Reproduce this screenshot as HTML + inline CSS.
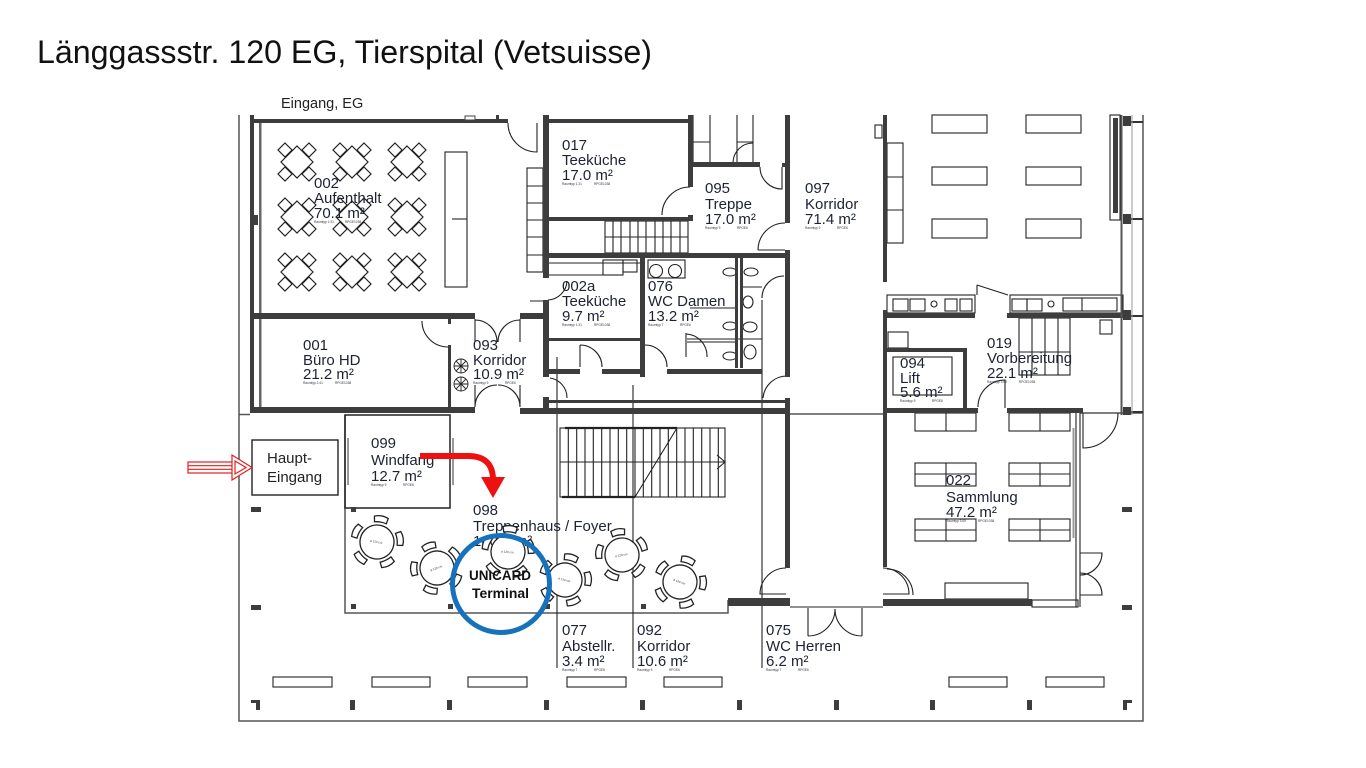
<!DOCTYPE html>
<html><head><meta charset="utf-8"><style>html,body{margin:0;padding:0;background:#fff}svg{display:block}</style></head>
<body>
<svg width="1366" height="768" viewBox="0 0 1366 768" xmlns="http://www.w3.org/2000/svg" xmlns:xlink="http://www.w3.org/1999/xlink" font-family="Liberation Sans, Arial, sans-serif">
<defs>
<g id="dg" fill="#fff" stroke="#222" stroke-width="1.2">
<polygon points="0,-16 16,0 0,16 -16,0"/>
<polygon points="-12,-19 -5,-12 -12,-5 -19,-12"/>
<polygon points="12,-19 19,-12 12,-5 5,-12"/>
<polygon points="-12,5 -5,12 -12,19 -19,12"/>
<polygon points="12,5 19,12 12,19 5,12"/>
</g>
<path id="ch" d="M-6,-19.5 L-7,-25 Q0,-28 7,-25 L6,-19.5 Q0,-21 -6,-19.5Z" fill="#fff" stroke="#222" stroke-width="1.3"/>
<g id="rt">
<use xlink:href="#ch"/>
<use xlink:href="#ch" transform="rotate(72)"/>
<use xlink:href="#ch" transform="rotate(144)"/>
<use xlink:href="#ch" transform="rotate(216)"/>
<use xlink:href="#ch" transform="rotate(288)"/>
<circle r="17" fill="#fff" stroke="#222" stroke-width="1.3"/>
<text x="-7" y="1" font-size="3" fill="#334">ø 120 cm</text>
</g>
<g id="fan" stroke="#222" stroke-width="0.9" fill="#fff">
<circle r="7"/>
<path d="M-7,0H7M0,-7V7M-5,-5L5,5M-5,5L5,-5"/>
</g>
</defs>
<rect width="1366" height="768" fill="#fff"/>

<text x="37" y="63" font-size="32" fill="#111" textLength="615" lengthAdjust="spacingAndGlyphs">Länggassstr. 120 EG, Tierspital (Vetsuisse)</text>
<text x="281" y="108" font-size="14.5" fill="#222">Eingang, EG</text>

<!-- outer thin lines -->
<g stroke="#555" stroke-width="1.5" fill="none">
<path d="M239,115V721H1143V115"/>
<path d="M239,414.5H250M790,414H883M1080,413H1143"/>
<path d="M345,415V613H728V600"/>
<rect x="345" y="415" width="105" height="93" stroke="#222"/>
</g>
<g stroke="#999" stroke-width="2">
<path d="M348,438V485M453,438V485M1073.5,428V538"/>
</g>

<!-- thin architecture lines -->
<g stroke="#222" stroke-width="1.1" fill="none">
<path d="M557,357V668M633,385V668M762,300V668"/>
<!-- 002 long table -->
<rect x="445" y="152" width="22" height="135"/>
<path d="M452,219H467"/>
<!-- shelf left of 017 -->
<rect x="527" y="168" width="16" height="104"/>
<path d="M527,186H543M527,203H543M527,220H543M527,237H543M527,255H543"/>
<!-- door 002 top -->
<path d="M508,123A29,29 0 0,0 537,152V123"/>
<!-- 001 door -->
<path d="M422,321A26,26 0 0,0 448,347"/>
<!-- 093 doors -->
<path d="M475,319V342M475,320A22,22 0 0,1 497,342M520,319V342M520,320A22,22 0 0,0 498,342"/>
<path d="M475,385V407M475,407A22,22 0 0,1 497,385M520,385V407M520,407A22,22 0 0,0 498,385"/>
<!-- upper cubicles above 095 -->
<path d="M693,115V162M710,115V162M693,142H710M737,115V162M753,115V162M737,142H753M733,162A20,20 0 0,1 753,143"/>
<!-- 095 doors -->
<path d="M662,215A28,28 0 0,1 690,187M760,167A22,22 0 0,0 782,189V167M758,250H785M758,250A27,27 0 0,1 785,223"/>
<!-- stairs 095 -->
<rect x="605" y="221" width="83" height="32"/>
<path d="M605,237H688M613,221V253M621,221V253M630,221V253M638,221V253M646,221V253M655,221V253M663,221V253M671,221V253M680,221V253"/>
<!-- 002a -->
<path d="M548,263H640M548,275H603"/>
<rect x="603" y="260" width="20" height="15"/>
<rect x="623" y="260" width="14" height="12"/>
<path d="M548,300A20,20 0 0,0 567,281M530,301H548M580,345V367M580,345A22,22 0 0,1 602,367M645,345A22,22 0 0,1 667,367M550,378A20,20 0 0,1 567,398M763,398A24,24 0 0,1 787,376M686,333V357M686,334A22,22 0 0,1 707,357"/>
<!-- 076 -->
<rect x="648" y="260" width="37" height="18"/>
<circle cx="656" cy="271" r="6.5"/><circle cx="675" cy="271" r="6.5"/>
<path d="M743,287H762M687,339H762M687,342H735M690,308H735"/>
<ellipse cx="730" cy="272" rx="7" ry="4"/><ellipse cx="751" cy="272" rx="7" ry="4"/>
<ellipse cx="748" cy="302" rx="5" ry="6"/><ellipse cx="730" cy="326" rx="7" ry="4"/>
<ellipse cx="750" cy="327" rx="7" ry="5"/><ellipse cx="730" cy="356" rx="7" ry="4"/>
<ellipse cx="750" cy="352" rx="6" ry="7"/>
<path d="M762,298A22,22 0 0,1 784,276"/>
<!-- 097 -->
<rect x="887" y="143" width="16" height="100"/>
<path d="M887,177H903M887,210H903"/>
<rect x="875" y="125" width="7" height="13"/>
<rect x="932" y="115" width="55" height="18"/><rect x="1026" y="115" width="55" height="18"/>
<rect x="932" y="167" width="55" height="18"/><rect x="1026" y="167" width="55" height="18"/>
<rect x="932" y="219" width="55" height="19"/><rect x="1026" y="219" width="55" height="19"/>
<rect x="1110" y="115" width="10" height="105"/>
<!-- counters -->
<rect x="887" y="295" width="88" height="18"/>
<rect x="1010" y="295" width="113" height="18"/>
<rect x="893" y="299" width="15" height="12"/><rect x="910" y="299" width="15" height="12"/>
<circle cx="934" cy="304" r="3"/>
<rect x="945" y="299" width="12" height="12"/><rect x="960" y="299" width="12" height="12"/>
<rect x="1012" y="299" width="15" height="12"/><rect x="1027" y="299" width="15" height="12"/>
<circle cx="1051" cy="304" r="3"/>
<rect x="1063" y="298" width="54" height="13"/><path d="M1082,298V311"/>
<path d="M977,285L1008,295M977,285V295"/>
<!-- lift -->
<rect x="893" y="357" width="59" height="38"/>
<rect x="888" y="332" width="20" height="16"/>
<path d="M978,407A27,27 0 0,1 1005,380V408"/>
<!-- 019 cabinet -->
<rect x="1019" y="318" width="51" height="57"/>
<path d="M1032,318V375M1045,318V375M1058,318V375M1019,352H1070"/>
<rect x="1100" y="320" width="12" height="14"/>
<!-- Sammlung -->
<rect x="915" y="413" width="61" height="18"/><path d="M946,413V431"/>
<rect x="1009" y="413" width="61" height="18"/><path d="M1040,413V431"/>
<rect x="915" y="463" width="61" height="23"/><path d="M946,463V486M915,474H976"/>
<rect x="1009" y="463" width="61" height="23"/><path d="M1040,463V486M1009,474H1070"/>
<rect x="915" y="519" width="61" height="22"/><path d="M946,519V541M915,530H976"/>
<rect x="1009" y="519" width="61" height="22"/><path d="M1040,519V541M1009,530H1070"/>
<rect x="945" y="583" width="83" height="16"/>
<path d="M1076,413V607M1080,413V607"/>
<rect x="1032" y="600" width="46" height="7"/>
<path d="M887,569A26,26 0 0,1 913,595"/>
<path d="M1080,553H1102A22,22 0 0,1 1080,575M1080,595H1102A22,22 0 0,0 1080,573"/>
<path d="M1083,413V448A35,35 0 0,0 1118,413"/>
<!-- corridor doors -->
<path d="M786,568A26,26 0 0,0 760,594H786M883,568A26,26 0 0,1 909,594H883"/>
<path d="M790,607H883M808,608V636M862,608V636M808,636A27,27 0 0,0 835,609M862,636A27,27 0 0,1 835,609"/>
<!-- foyer stairs -->
<rect x="560" y="428" width="165" height="69"/>
<path d="M560,462H725M568.3,428V497M576.7,428V497M585,428V497M593.3,428V497M601.7,428V497M610,428V497M618.3,428V497M626.7,428V497M635,428V497M643.3,428V497M651.7,428V497M660,428V497M668.3,428V497M676.7,428V497M685,428V497M693.3,428V497M701.7,428V497M710,428V497M718.3,428V497M635,497L677,428M717,455L725,462L717,469"/>
<!-- benches -->
<rect x="273" y="677" width="59" height="10"/><rect x="372" y="677" width="58" height="10"/>
<rect x="468" y="677" width="59" height="10"/><rect x="567" y="677" width="59" height="10"/>
<rect x="664" y="677" width="58" height="10"/><rect x="949" y="677" width="58" height="10"/>
<rect x="1046" y="677" width="58" height="10"/>
<!-- Haupt-Eingang -->
<rect x="252" y="440" width="86" height="55" stroke-width="1.4"/>
</g>
<path d="M565,428H677M562,497H635" stroke="#222" stroke-width="2.2"/>

<!-- walls -->
<g fill="#3d3d3d">
<rect x="250" y="115" width="4" height="298"/>
<rect x="259" y="123" width="2.5" height="190" fill="#666"/>
<rect x="259" y="319" width="2.5" height="89" fill="#666"/>
<rect x="250" y="215" width="8" height="10"/>
<rect x="250" y="119" width="258" height="4"/>
<rect x="465" y="116" width="10" height="4" fill="#fff" stroke="#444" stroke-width="1"/>
<rect x="496" y="115" width="3" height="7"/>
<rect x="250" y="313" width="225" height="6"/>
<rect x="250" y="407" width="225" height="6"/>
<rect x="520" y="313" width="28" height="6"/>
<rect x="448" y="345" width="3" height="62"/>
<rect x="448" y="319" width="3" height="5"/>
<rect x="543" y="115" width="6" height="163"/>
<rect x="543" y="300" width="6" height="77"/>
<rect x="543" y="397" width="6" height="12"/>
<rect x="520" y="408" width="270" height="6"/>
<rect x="548" y="400" width="242" height="3"/>
<rect x="543" y="119" width="150" height="4"/>
<rect x="688" y="115" width="5" height="72"/>
<rect x="688" y="215" width="5" height="6"/>
<rect x="548" y="217" width="140" height="4"/>
<rect x="693" y="162" width="67" height="5"/>
<rect x="785" y="115" width="5" height="48"/>
<rect x="782" y="163" width="8" height="4"/>
<rect x="785" y="165" width="5" height="58"/>
<rect x="785" y="250" width="5" height="127"/>
<rect x="785" y="398" width="5" height="170"/>
<rect x="543" y="253" width="247" height="5"/>
<rect x="640" y="258" width="5" height="119"/>
<rect x="548" y="338" width="92" height="3"/>
<rect x="735" y="258" width="3" height="110"/>
<rect x="740" y="258" width="3" height="110"/>
<rect x="543" y="369" width="37" height="5"/>
<rect x="602" y="369" width="43" height="5"/>
<rect x="667" y="369" width="95" height="5"/>
<rect x="728" y="598" width="62" height="8"/>
<rect x="883" y="115" width="4" height="167"/>
<rect x="883" y="313" width="92" height="5"/>
<rect x="1007" y="313" width="118" height="5"/>
<rect x="883" y="310" width="4" height="257"/>
<rect x="883" y="348" width="84" height="4"/>
<rect x="963" y="348" width="4" height="62"/>
<rect x="883" y="408" width="95" height="5"/>
<rect x="1007" y="408" width="76" height="5"/>
<rect x="883" y="599" width="149" height="7"/>
<rect x="1113" y="118" width="5" height="95"/>
<rect x="1123" y="116" width="8" height="10"/>
<rect x="1123" y="214" width="8" height="10"/>
<rect x="1123" y="310" width="8" height="10"/>
<rect x="1123" y="407" width="8" height="8"/>
<!-- column markers -->
<rect x="251" y="507" width="10" height="5"/><rect x="251" y="605" width="10" height="5"/>
<rect x="1122" y="507" width="10" height="5"/><rect x="1122" y="605" width="10" height="5"/>
<rect x="251" y="700" width="9" height="3"/><rect x="256" y="700" width="4" height="10"/>
<rect x="1123" y="700" width="9" height="3"/><rect x="1123" y="700" width="4" height="10"/>
<rect x="350" y="700" width="5" height="10"/><rect x="447" y="700" width="5" height="10"/>
<rect x="544" y="700" width="5" height="10"/><rect x="640" y="700" width="5" height="10"/>
<rect x="737" y="700" width="5" height="10"/><rect x="834" y="700" width="5" height="10"/>
<rect x="930" y="700" width="5" height="10"/><rect x="1027" y="700" width="5" height="10"/>
<rect x="351" y="507" width="5" height="5"/><rect x="351" y="604" width="5" height="5"/>
<rect x="448" y="604" width="5" height="5"/><rect x="545" y="604" width="5" height="5"/>
<rect x="641" y="604" width="5" height="5"/>
</g>
<g stroke="#555" stroke-width="2"><path d="M1121.5,115V415"/><path d="M1131,122H1143M1131,219H1143M1131,316H1143M1131,412H1143" stroke="#333"/></g>
<path d="M1132,115V415" stroke="#999" stroke-width="1"/>

<!-- 002 tables -->
<use xlink:href="#dg" x="297" y="162"/><use xlink:href="#dg" x="352" y="162"/><use xlink:href="#dg" x="407" y="162"/>
<use xlink:href="#dg" x="297" y="217"/><use xlink:href="#dg" x="352" y="217"/><use xlink:href="#dg" x="407" y="217"/>
<use xlink:href="#dg" x="297" y="272"/><use xlink:href="#dg" x="352" y="272"/><use xlink:href="#dg" x="407" y="272"/>

<use xlink:href="#fan" x="461" y="366"/><use xlink:href="#fan" x="461" y="384"/>

<!-- room labels -->
<g font-size="15" fill="#1d2233">
<text x="314" y="188">002</text><text x="314" y="203">Aufenthalt</text><text x="314" y="218">70.1 m²</text>
<text x="303" y="350">001</text><text x="303" y="365">Büro HD</text><text x="303" y="379">21.2 m²</text>
<text x="473" y="350">093</text><text x="473" y="365">Korridor</text><text x="473" y="379">10.9 m²</text>
<text x="562" y="150">017</text><text x="562" y="165">Teeküche</text><text x="562" y="180">17.0 m²</text>
<text x="705" y="193">095</text><text x="705" y="209">Treppe</text><text x="705" y="224">17.0 m²</text>
<text x="805" y="193">097</text><text x="805" y="209">Korridor</text><text x="805" y="224">71.4 m²</text>
<text x="562" y="291">002a</text><text x="562" y="306">Teeküche</text><text x="562" y="321">9.7 m²</text>
<text x="648" y="291">076</text><text x="648" y="306">WC Damen</text><text x="648" y="321">13.2 m²</text>
<text x="900" y="368">094</text><text x="900" y="383">Lift</text><text x="900" y="397">5.6 m²</text>
<text x="987" y="348">019</text><text x="987" y="363">Vorbereitung</text><text x="987" y="378">22.1 m²</text>
<text x="371" y="448">099</text><text x="371" y="465">Windfang</text><text x="371" y="481">12.7 m²</text>
<text x="473" y="515">098</text><text x="473" y="531">Treppenhaus / Foyer</text><text x="473" y="546">100.1 m²</text>
<text x="946" y="485">022</text><text x="946" y="502">Sammlung</text><text x="946" y="517">47.2 m²</text>
<text x="562" y="635">077</text><text x="562" y="651">Abstellr.</text><text x="562" y="666">3.4 m²</text>
<text x="637" y="635">092</text><text x="637" y="651">Korridor</text><text x="637" y="666">10.6 m²</text>
<text x="766" y="635">075</text><text x="766" y="651">WC Herren</text><text x="766" y="666">6.2 m²</text>
</g>
<g font-size="3.2" fill="#334">
<text x="314" y="223">Raumtyp 1.31</text><text x="345" y="223">RPGE1038</text>
<text x="303" y="384">Raumtyp 2.41</text><text x="335" y="384">RPGE1038</text>
<text x="473" y="384">Raumtyp 9</text><text x="505" y="384">RPGE6</text>
<text x="562" y="185">Raumtyp 1.31</text><text x="594" y="185">RPGE1038</text>
<text x="705" y="229">Raumtyp 9</text><text x="737" y="229">RPGE6</text>
<text x="805" y="229">Raumtyp 9</text><text x="837" y="229">RPGE6</text>
<text x="562" y="326">Raumtyp 1.31</text><text x="594" y="326">RPGE1038</text>
<text x="648" y="326">Raumtyp 7</text><text x="680" y="326">RPGE6</text>
<text x="900" y="402">Raumtyp 9</text><text x="932" y="402">RPGE6</text>
<text x="987" y="383">Raumtyp 3.65</text><text x="1019" y="383">RPGE1038</text>
<text x="371" y="486">Raumtyp 9</text><text x="403" y="486">RPGE6</text>
<text x="946" y="522">Raumtyp 3.65</text><text x="978" y="522">RPGE1038</text>
<text x="562" y="671">Raumtyp 7</text><text x="594" y="671">RPGE6</text>
<text x="637" y="671">Raumtyp 9</text><text x="669" y="671">RPGE6</text>
<text x="766" y="671">Raumtyp 7</text><text x="798" y="671">RPGE6</text>
</g>

<!-- foyer round tables -->
<use xlink:href="#rt" transform="translate(377,542) rotate(10)"/>
<use xlink:href="#rt" transform="translate(437,568) rotate(-20)"/>
<use xlink:href="#rt" transform="translate(508,552) rotate(5)"/>
<use xlink:href="#rt" transform="translate(565,580) rotate(15)"/>
<use xlink:href="#rt" transform="translate(622,555) rotate(-10)"/>
<use xlink:href="#rt" transform="translate(680,582) rotate(20)"/>

<!-- Haupt-Eingang -->
<text x="267" y="463" font-size="15" fill="#222">Haupt-</text>
<text x="267" y="482" font-size="15" fill="#222">Eingang</text>

<!-- red entry arrow -->
<g stroke="#e41e1e" stroke-width="1.2" fill="#fff">
<rect x="188" y="462" width="46" height="11"/>
<path d="M188,465.7H234M188,469.3H234" fill="none"/>
<polygon points="232,455 252,467.5 232,480"/>
<polygon points="235,461 246,467.5 235,474" fill="none"/>
</g>

<!-- red curved arrow -->
<path d="M420,456H468Q493,456 493,480" fill="none" stroke="#ee1111" stroke-width="6"/>
<polygon points="481,477 505,477 493,498" fill="#ee1111"/>

<!-- UNICARD circle -->
<circle cx="501" cy="584" r="48.5" fill="none" stroke="#1672bd" stroke-width="5"/>
<text x="469" y="580" font-size="14" font-weight="bold" fill="#111" textLength="62" lengthAdjust="spacingAndGlyphs">UNICARD</text>
<text x="472" y="598" font-size="14" font-weight="bold" fill="#111" textLength="57" lengthAdjust="spacingAndGlyphs">Terminal</text>
</svg>
</body></html>
